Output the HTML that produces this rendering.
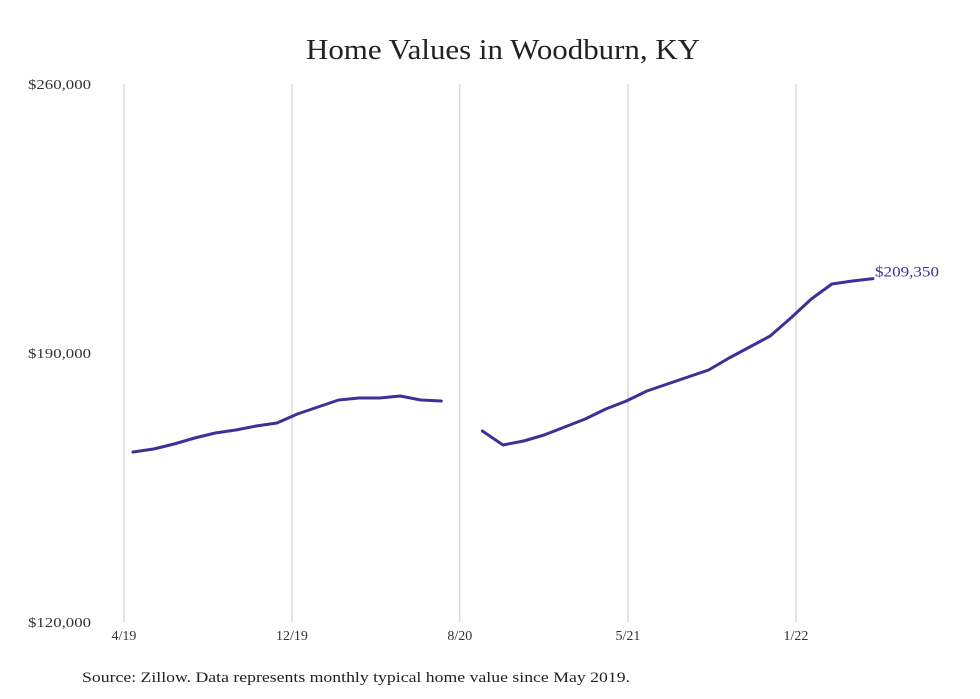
<!DOCTYPE html>
<html><head><meta charset="utf-8"><style>
body{margin:0;background:#fff;}
svg{display:block;font-family:"Liberation Serif",serif;}
</style></head><body>
<svg width="980" height="699" viewBox="0 0 980 699" xmlns="http://www.w3.org/2000/svg">
<text x="306" y="59" font-size="28" textLength="394" lengthAdjust="spacingAndGlyphs" fill="#222">Home Values in Woodburn, KY</text>
<g id="grid"></g>
<g id="yaxis"></g>
<g id="xaxis"></g>
<g id="series"></g>
<text x="82" y="682" font-size="15" textLength="548" lengthAdjust="spacingAndGlyphs" fill="#222">Source: Zillow. Data represents monthly typical home value since May 2019.</text>
</svg>
<script>
const values=[164234,165015,166316,167877,169178,169958,171000,171780,174122,175943,177764,178285,178285,178805,177764,177504,null,169698,166055,167096,168657,170739,172821,175423,177504,180106,181928,183749,185570,188693,191555,194417,199101,204045,207948,208728,209350];
const yTicks=[120000,190000,260000];
const yTickLabels=["$120,000","$190,000","$260,000"];
const xTickLabels=["4/19","12/19","8/20","5/21","1/22"];
const xTickIdx=[-0.44,7.73,15.9,24.08,32.25];
const endLabel="$209,350";
const NS="http://www.w3.org/2000/svg";
const x=i=>133+i*(740/36);
const y=v=>622-(v-120000)/70000*269;
function mk(t,a,p){const e=document.createElementNS(NS,t);for(const k in a)e.setAttribute(k,a[k]);p.appendChild(e);return e;}
const grid=document.getElementById('grid'),xa=document.getElementById('xaxis'),ya=document.getElementById('yaxis'),s=document.getElementById('series');
xTickIdx.forEach((ix,j)=>{
  const l=mk('line',{x1:x(ix),x2:x(ix),y1:84,y2:622,stroke:'#c8c8c8','stroke-width':1},grid);
  
  
  const t=mk('text',{x:x(ix),y:640,'text-anchor':'middle','font-size':14,fill:'#333'},xa);
  t.textContent=xTickLabels[j];
  
  
});
yTicks.forEach((v,j)=>{
  const t=mk('text',{x:28,y:y(v)+5,'font-size':14,textLength:63,lengthAdjust:'spacingAndGlyphs',fill:'#333'},ya);
  t.textContent=yTickLabels[j];
  
  
});
let d='',pen=false;
values.forEach((v,i)=>{if(v==null){pen=false;return;}d+=(pen?'L':'M')+x(i).toFixed(1)+' '+y(v).toFixed(1)+' ';pen=true;});
const p=mk('path',{d:d,fill:'none',stroke:'#3b3197','stroke-width':3,'stroke-linejoin':'round','stroke-linecap':'round'},s);


const li=values.length-1;
const el=mk('text',{x:x(li)+2,y:y(values[li])-2,'font-size':15,textLength:64,lengthAdjust:'spacingAndGlyphs',fill:'#3b3197'},s);
el.textContent=endLabel;


</script>
</body></html>
